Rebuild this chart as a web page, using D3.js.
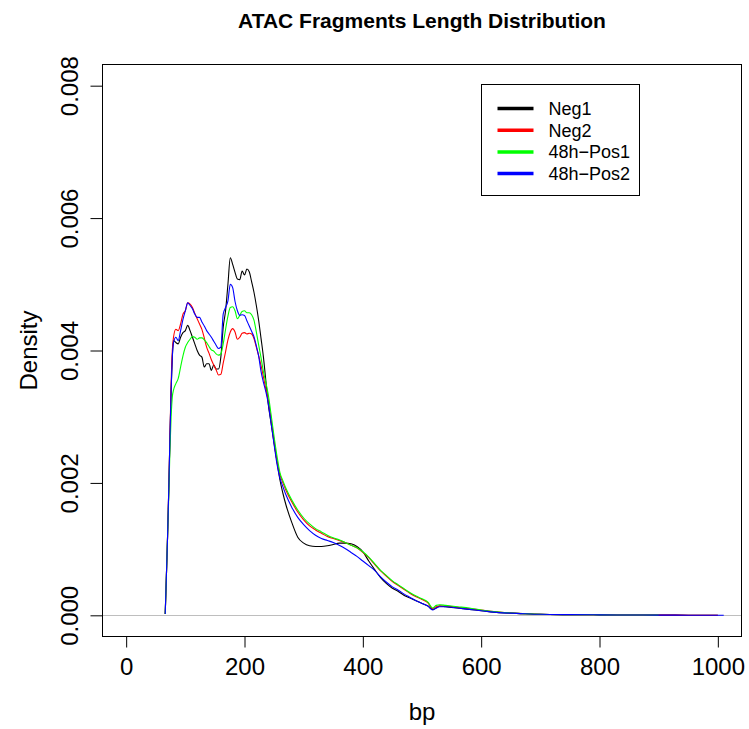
<!DOCTYPE html>
<html>
<head>
<meta charset="utf-8">
<script src="https://cdn.jsdelivr.net/npm/d3@7"></script>
<style>
  body { margin: 0; background: #fff; }
  text { font-family: "Liberation Sans", Arial, sans-serif; fill: #000; }
</style>
</head>
<body>
<div class="chart"></div>
<script>
// fragment length (bp) grid the densities were read at
var bp = [66,68,70,72,74,76,78,80,84,88,92,96,100,104,108,112,116,120,124,128,132,136,140,144,148,152,156,160,164,168,172,176,180,184,188,192,196,200,204,208,212,216,220,224,228,232,236,240,245,250,255,260,265,270,280,290,300,310,320,330,340,350,360,370,380,390,400,410,420,430,440,450,460,470,480,490,500,510,518,524,530,540,560,580,600,630,660,700,750,800,850,900,950,1000,1010];

var neg1 = [.00002,.0006,.0012,.0019,.0027,.0034,.0039,.00415,.00412,.0041,.0042,.00427,.0043,.00438,.0043,.0042,.0041,.004,.00393,.0039,.00375,.0038,.0038,.0037,.00378,.00372,.00372,.0039,.00435,.0046,.005,.0054,.0053,.00518,.00508,.00507,.0052,.00514,.00523,.00519,.00504,.00488,.00468,.00445,.00418,.0039,.00355,.0032,.0029,.0026,.00232,.00204,.00184,.00167,.0014,.00118,.00109,.00105,.00104,.00104,.00105,.00107,.00109,.00109,.00108,.00104,.00096,.00082,.00069,.00057,.00048,.00041,.00036,.0003,.00026,.00022,.00018,.00014,.00009,.00011,.00014,.00013,.00011,.00009,.00007,.00004,.00003,.000015,.00001,.000007,.000005,.000003,.000002,.000001,null];

var neg2 = [.00002,.0006,.0012,.0019,.0027,.0035,.004,.0042,.00432,.0043,.0044,.00455,.0046,.00472,.0047,.00465,.00456,.00448,.0044,.00432,.00419,.00405,.00396,.00386,.00378,.00371,.00363,.00364,.00381,.00398,.00416,.00428,.00433,.00428,.00417,.0042,.00426,.00427,.00425,.00426,.00425,.00418,.00405,.00392,.00377,.0036,.00342,.00326,.00295,.00263,.00232,.00212,.002,.00189,.00171,.00156,.00144,.00135,.00129,.00124,.00119,.00116,.00113,.0011,.00106,.00102,.00095,.00087,.00077,.00067,.00059,.00051,.00045,.00039,.00033,.00028,.00024,.00019,.0001,.00013,.00014,.00014,.00012,.0001,.00008,.00005,.00003,.000015,.00001,.000007,.000005,.000003,.000002,.000001,null];

var pos1 = [.00002,.0006,.0012,.0018,.0025,.003,.0033,.0034,.0035,.00358,.00375,.00392,.00405,.00412,.00417,.00421,.0042,.00417,.00419,.00419,.00416,.00412,.00406,.00401,.00399,.00395,.00393,.00395,.0041,.00432,.00452,.00465,.00466,.0046,.00448,.00453,.00459,.0046,.00457,.00457,.00454,.00446,.00428,.00408,.00389,.00368,.00352,.00334,.00303,.0027,.0024,.00215,.00203,.00192,.00174,.00159,.00147,.00138,.00131,.00126,.00121,.00117,.00114,.0011,.00106,.00102,.00096,.00088,.00078,.00068,.0006,.00052,.00046,.0004,.00034,.00029,.00025,.0002,.00011,.00015,.00016,.00015,.00013,.00011,.00008,.00005,.00003,.000015,.00001,.000007,.000005,.000003,null,null,null];

var pos2 = [.00002,.0006,.0012,.0019,.0027,.0034,.0039,.00412,.0042,.00415,.0043,.00447,.0046,.00472,.00468,.00463,.00455,.0045,.0045,.00443,.00437,.0043,.00425,.0042,.00414,.00408,.00403,.00405,.00455,.00465,.00475,.005,.00495,.00474,.0046,.00453,.00454,.00453,.00445,.00437,.00429,.00421,.00407,.00391,.00368,.00352,.00338,.00321,.0029,.00258,.00228,.00207,.00194,.00182,.00163,.00148,.00137,.00128,.00121,.00116,.00113,.0011,.00106,.00101,.00095,.00089,.00082,.00075,.00068,.00058,.0005,.00043,.00038,.00032,.00027,.00022,.00018,.00014,.00008,.00011,.00013,.00013,.00011,.00009,.00007,.00004,.00003,.000015,.00001,.000007,.000005,.000003,.000002,.000001,.0000005];

var names = ["Neg1", "Neg2", "48h\u2212Pos1", "48h\u2212Pos2"];
var colors = ["#000000", "#ff0000", "#00ff00", "#0000ff"];
var xTicks = [0, 200, 400, 600, 800, 1000];
var yTicks = [0, 0.002, 0.004, 0.006, 0.008];

var series = [neg1, neg2, pos1, pos2].map(function(vals, i) {
  return { name: names[i], color: colors[i],
           pts: bp.map(function(b, j) { return { x: b, y: vals[j] }; }) };
});

var W = 749, H = 729;
// plot region edges (window.top is reserved, so no "top" here)
var pL = 102.5, pR = 741.5, pT = 64.5, pB = 636.5;

var svg = d3.select(".chart")
  .append("svg")
    .attr("width", W)
    .attr("height", H);

var x = d3.scaleLinear()
  .domain([-40, 1040])
  .range([pL, pR]);

var y = d3.scaleLinear()
  .domain([-0.00032, 0.00832])
  .range([pB, pT]);

// grey zero line
svg.append("line")
  .attr("x1", pL).attr("x2", pR)
  .attr("y1", Math.round(y(0)) + 0.5).attr("y2", Math.round(y(0)) + 0.5)
  .attr("stroke", "#bebebe");

// density curves
var line = d3.line()
  .defined(function(d) { return d.y != null; })
  .x(function(d) { return x(d.x); })
  .y(function(d) { return y(d.y); })
  .curve(d3.curveMonotoneX);

svg.selectAll(".dens")
  .data(series)
  .enter()
  .append("path")
    .attr("class", "dens")
    .attr("d", function(d) { return line(d.pts); })
    .attr("fill", "none")
    .attr("stroke", function(d) { return d.color; })
    .attr("stroke-width", 1.1);

// X axis
var xAxis = svg.append("g")
  .attr("transform", "translate(0," + pB + ")")
  .call(d3.axisBottom(x).tickValues(xTicks).tickSize(11).tickPadding(10).tickFormat(d3.format("d")));
xAxis.select(".domain").remove();
xAxis.selectAll("text").style("font-size", "24px").attr("fill", "#000");
xAxis.selectAll("line").attr("stroke", "#000");

// Y axis, labels rotated like R's default
var yAxis = svg.append("g")
  .attr("transform", "translate(" + pL + ",0)")
  .call(d3.axisLeft(y).tickValues(yTicks).tickSize(12).tickFormat(d3.format(".3f")));
yAxis.select(".domain").remove();
yAxis.selectAll("line").attr("stroke", "#000");
yAxis.selectAll("text")
  .attr("x", 0).attr("y", -25).attr("dy", 0)
  .attr("transform", "rotate(-90)")
  .style("text-anchor", "middle")
  .style("font-size", "24px")
  .attr("fill", "#000");

// plot frame
svg.append("rect")
  .attr("x", pL).attr("y", pT)
  .attr("width", pR - pL).attr("height", pB - pT)
  .attr("fill", "none")
  .attr("stroke", "#000");

// titles
svg.append("text")
  .attr("x", (pL + pR) / 2).attr("y", 27.5)
  .attr("text-anchor", "middle")
  .style("font-size", "21px").style("font-weight", "bold")
  .text("ATAC Fragments Length Distribution");

svg.append("text")
  .attr("x", (pL + pR) / 2).attr("y", 720)
  .attr("text-anchor", "middle")
  .style("font-size", "24px")
  .text("bp");

svg.append("text")
  .attr("transform", "translate(37," + (pT + pB) / 2 + ")rotate(-90)")
  .attr("text-anchor", "middle")
  .style("font-size", "24px")
  .text("Density");

// legend
var lg = svg.append("g").attr("transform", "translate(481.5,84.5)");
lg.append("rect")
  .attr("width", 158).attr("height", 111)
  .attr("fill", "#fff").attr("stroke", "#000");

var rows = lg.selectAll(".row")
  .data(series)
  .enter()
  .append("g")
    .attr("transform", function(d, i) { return "translate(0," + (24 + i * 21.7) + ")"; });
rows.append("line")
  .attr("x1", 16).attr("x2", 52)
  .attr("stroke", function(d) { return d.color; })
  .attr("stroke-width", 3.5);
rows.append("text")
  .attr("x", 67).attr("dy", "0.36em")
  .style("font-size", "18px")
  .text(function(d) { return d.name; });
</script>
</body>
</html>
